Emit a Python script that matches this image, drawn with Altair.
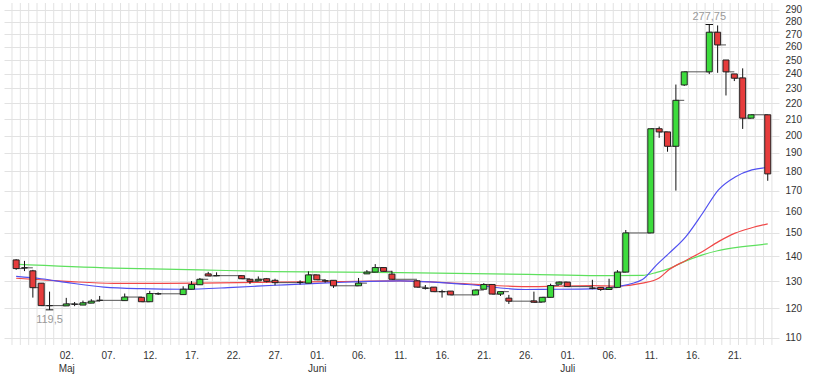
import json
import altair as alt
import pandas as pd

# ---- data (day index: 0 = 02 May) ----
candle_day = [-6, -5, -4, -3, -2, 0, 1, 2, 3, 4, 7, 9, 10, 11, 14, 15, 16, 17, 18,
              21, 22, 23, 24, 25, 28, 29, 30, 31, 32, 35, 36, 37, 38, 39,
              42, 43, 44, 45, 46, 49, 50, 51, 52, 53, 56, 57, 58, 59, 60,
              63, 64, 65, 66, 67, 70, 71, 72, 73, 74, 77, 78, 79, 80, 81, 82, 84]
candle_open = [138.5, 135.3, 134.1, 129.3, 121.0, 120.9, 121.5, 121.2, 121.9, 122.9, 122.8, 124.0, 122.4, 125.3, 125.0, 127.0, 128.7, 132.9, 132.2,
               132.2, 130.8, 130.2, 131.0, 130.4, 129.6, 129.3, 132.5, 130.2, 130.4, 128.3, 132.9, 133.6, 135.4, 132.8,
               130.2, 127.4, 127.8, 126.1, 126.3, 124.9, 127.0, 128.8, 125.2, 123.7, 122.7, 122.3, 124.0, 128.9, 129.7,
               127.4, 127.7, 126.9, 127.7, 133.6, 150.0, 204.1, 202.2, 193.8, 232.3, 241.5, 271.5, 250.1, 240.0, 237.2, 210.6, 212.7]
candle_high = [138.8, 138.1, 134.5, 129.3, 126.1, 123.8, 122.3, 122.8, 123.3, 124.5, 125.4, 124.2, 126.4, 125.8, 128.1, 130.1, 131.3, 133.7, 133.5,
               132.2, 130.8, 131.9, 131.3, 131.0, 130.4, 133.9, 132.5, 130.8, 130.4, 131.3, 134.4, 136.8, 135.4, 134.1,
               130.5, 128.6, 127.8, 126.8, 126.3, 126.8, 129.3, 128.8, 126.1, 124.9, 126.1, 124.0, 129.1, 129.9, 129.7,
               130.6, 127.7, 131.0, 134.4, 151.3, 204.1, 205.4, 202.2, 232.6, 241.5, 277.75, 277.0, 250.1, 240.0, 244.0, 212.7, 212.7]
candle_low = [134.5, 134.0, 123.9, 121.0, 119.5, 120.9, 120.8, 121.2, 121.9, 122.5, 122.8, 122.4, 122.4, 124.9, 125.0, 127.0, 128.7, 132.1, 132.0,
              131.0, 129.0, 130.0, 129.6, 128.5, 128.8, 129.3, 130.6, 129.5, 127.5, 128.3, 132.9, 133.6, 133.9, 130.8,
              127.8, 126.9, 126.1, 123.9, 124.9, 124.9, 127.0, 125.2, 124.5, 121.6, 122.2, 122.3, 124.0, 128.9, 128.0,
              127.0, 126.4, 126.9, 127.7, 133.6, 150.0, 198.7, 190.7, 170.0, 231.6, 239.9, 240.8, 225.2, 235.0, 204.0, 210.6, 175.0]
candle_close = [135.0, 135.3, 127.6, 121.0, 121.0, 121.6, 121.5, 122.0, 122.6, 122.9, 124.1, 122.4, 125.4, 125.3, 127.0, 128.8, 130.8, 132.1, 132.2,
                131.0, 130.0, 130.8, 130.0, 129.5, 129.6, 132.5, 130.6, 130.2, 128.3, 129.3, 133.6, 135.4, 133.9, 130.8,
                127.8, 127.4, 126.1, 126.1, 124.9, 126.7, 128.8, 125.2, 126.1, 122.6, 122.2, 124.0, 128.4, 129.7, 128.0,
                127.4, 126.9, 127.6, 133.6, 150.0, 204.1, 202.2, 193.8, 222.0, 241.5, 271.5, 261.5, 241.5, 237.0, 210.6, 212.7, 178.6]

ma_fast_day = [-6, -3, 0, 4.5, 9, 14, 20, 25, 32, 40, 48, 55, 59, 63, 66, 69, 70.7, 72.2, 74.2, 76.2, 78.1, 80.1, 82.1, 84]
ma_fast_val = [131.9, 131.0, 129.6, 127.8, 127.2, 127.0, 127.7, 128.5, 129.5, 130.2, 128.8, 126.9, 127.0, 127.1, 128.0, 130.7, 136.5, 141.3, 148.4, 159.0, 170.4, 177.0, 180.7, 182.0]

ma_mid_day = [-6, 0, 5.7, 9, 16, 23, 32, 40, 48, 55, 63, 66, 69, 71, 72.2, 74.2, 76.2, 78.1, 80.1, 82, 84]
ma_mid_val = [131.2, 130.0, 129.2, 129.2, 129.3, 129.6, 129.9, 130.2, 129.0, 128.0, 128.4, 128.2, 129.3, 131.3, 134.6, 138.3, 142.0, 146.2, 149.9, 152.2, 154.1]

ma_slow_day = [-6.4, 5.7, 16, 24.6, 40, 55.3, 63.6, 69, 70.7, 72.2, 74, 76.2, 78, 80.1, 84]
ma_slow_val = [136.8, 135.2, 134.5, 133.8, 133.4, 132.7, 132.2, 132.3, 133.5, 135.0, 137.8, 140.6, 142.3, 143.6, 145.2]

tick_days = [0, 5, 10, 15, 20, 25, 30, 35, 40, 45, 50, 55, 60, 65, 70, 75, 80]
tick_labels = ["02.", "07.", "12.", "17.", "22.", "27.", "01.", "06.", "11.", "16.", "21.", "26.", "01.", "06.", "11.", "16.", "21."]
tick_months = ["Maj", "", "", "", "", "", "Juni", "", "", "", "", "", "Juli", "", "", "", ""]
y_ticks = [110, 120, 130, 140, 150, 160, 170, 180, 190, 200, 210, 220, 230, 240, 250, 260, 270, 280, 290]

extreme_day = [77, -2]
extreme_val = [277.75, 119.5]
extreme_text = ["277,75", "119,5"]

# ---- tables ----
df = pd.DataFrame({"d": candle_day, "o": candle_open, "h": candle_high,
                   "l": candle_low, "c": candle_close})
df["dir"] = ["up" if c >= o else "down" for o, c in zip(df.o, df.c)]
conn = df.copy()
conn["dn"] = conn["d"].shift(-1)
conn = conn.dropna()

grid_df = pd.DataFrame({"g": [x + 0.5 for x in range(-7, 85)]})
fast = pd.DataFrame({"d": ma_fast_day, "v": ma_fast_val})
mid = pd.DataFrame({"d": ma_mid_day, "v": ma_mid_val})
slow = pd.DataFrame({"d": ma_slow_day, "v": ma_slow_val})
ext = pd.DataFrame({"d": extreme_day, "v": extreme_val, "t": extreme_text})
ext["a"] = ext["d"] - 0.45
ext["b"] = ext["d"] + 0.45

expr = ""
for d, lab, mon in zip(tick_days, tick_labels, tick_months):
    arr = [lab, mon] if mon else [lab]
    expr += f"datum.value == {d} ? {json.dumps(arr)} : "
expr += "''"

FONT = "Liberation Sans"
xs = alt.Scale(domain=[-6.856, 84.75], nice=False, zero=False)
ys = alt.Scale(type="log", domain=[107.7, 296], nice=False)

XA = alt.Axis(values=tick_days, labelExpr=expr, grid=False, domain=False,
              ticks=False, labelPadding=5, labelFontSize=10, labelColor="#333",
              labelFont=FONT, labelLineHeight=13, labelFlush=False, title=None)
YA = alt.Axis(orient="right", values=y_ticks, format="d", grid=True,
              gridColor="#e2e2e2", domain=False, ticks=False, labelPadding=6,
              labelFontSize=10, labelColor="#333", labelFont=FONT, title=None)


def X(f):
    return alt.X(f, type="quantitative", scale=xs, axis=XA)


def Y(f):
    return alt.Y(f, type="quantitative", scale=ys, axis=YA)


vgrid = alt.Chart(grid_df).mark_rule(color="#e2e2e2", strokeWidth=1).encode(x=X("g"))

slow_line = alt.Chart(slow).mark_line(color="#5ee05e", strokeWidth=1.2, interpolate="monotone").encode(
    x=X("d"), y=Y("v"))
mid_line = alt.Chart(mid).mark_line(color="#f04848", strokeWidth=1.2, interpolate="monotone").encode(
    x=X("d"), y=Y("v"))
fast_line = alt.Chart(fast).mark_line(color="#5050f0", strokeWidth=1.2, interpolate="monotone").encode(
    x=X("d"), y=Y("v"))

connectors = alt.Chart(conn).mark_rule(color="#555555", strokeWidth=1).encode(
    x=X("d"), x2="dn:Q", y=Y("c"))

wicks = alt.Chart(df).mark_rule(color="#111111", strokeWidth=1).encode(
    x=X("d"), y=Y("l"), y2="h:Q")

bodies = alt.Chart(df).mark_bar(size=6, stroke="#222222", strokeWidth=1).encode(
    x=X("d"), y=Y("o"), y2="c:Q",
    color=alt.Color("dir:N", scale=alt.Scale(domain=["up", "down"], range=["#3ddc3d", "#e63c3c"]), legend=None))

ext_ticks = alt.Chart(ext).mark_rule(color="#111111", strokeWidth=1).encode(
    x=X("a"), x2="b:Q", y=Y("v"))

hi_txt = alt.Chart(ext.iloc[[0]]).mark_text(baseline="bottom", dy=-3, fontSize=11, color="#9a9a9a", font=FONT).encode(
    x=X("d"), y=Y("v"), text="t:N")
lo_txt = alt.Chart(ext.iloc[[1]]).mark_text(baseline="top", dy=4, fontSize=11, color="#9a9a9a", font=FONT).encode(
    x=X("d"), y=Y("v"), text="t:N")

chart = alt.layer(vgrid, slow_line, mid_line, fast_line, connectors, wicks, bodies, ext_ticks, hi_txt, lo_txt).properties(
    width=775, height=342,
    padding={"left": 4, "top": 3, "right": 37, "bottom": 31},
    autosize=alt.AutoSizeParams(type="none"),
    background="white",
).configure_view(stroke=None)

chart.save("out.html", embed_options={"renderer": "svg", "actions": False})
